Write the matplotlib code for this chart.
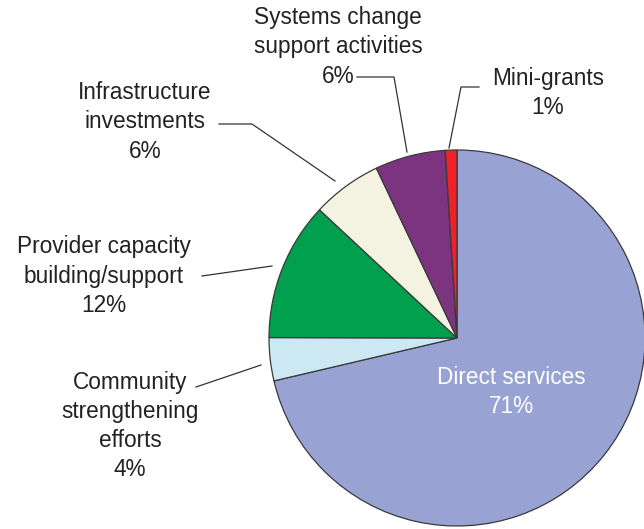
import matplotlib
matplotlib.use("Agg")
import matplotlib.pyplot as plt

categories = ["Direct services", "Community\nstrengthening\nefforts", "Provider capacity\nbuilding/support",
              "Infrastructure\ninvestments", "Systems change\nsupport activities", "Mini-grants"]
values = [71.3, 3.7, 11.9, 6.0, 6.05, 1.0]
pct_labels = ["71%", "4%", "12%", "6%", "6%", "1%"]
colors = ["#98A2D3", "#CBE8F3", "#00A04F", "#F4F2E1", "#7C3481", "#EE2029"]

W, H = 644, 529
fig = plt.figure(figsize=(W / 100, H / 100), dpi=100)
ax = fig.add_axes([0, 0, 1, 1])

def Y(y):
    return H - y

ax.pie(values, colors=colors, startangle=90, counterclock=False,
       center=(457, Y(338)), radius=188, frame=True,
       wedgeprops=dict(edgecolor="#3a3a3a", linewidth=0.9))
ax.set_xlim(0, W)
ax.set_ylim(0, H)
ax.set_aspect("equal")
ax.axis("off")

font = dict(family=["Liberation Sans", "DejaVu Sans"], fontsize=16.3, color="#222222",
            ha="center", va="center", linespacing=1.34)
lc = dict(color="#333333", linewidth=0.9)

# Systems change
ax.text(338, Y(47), categories[4] + "\n" + pct_labels[4], **font)
ax.plot([357, 394, 407], [Y(77), Y(77), Y(152)], **lc)

# Mini-grants
ax.text(548, Y(93), categories[5] + "\n" + pct_labels[5], **font)
ax.plot([479, 461, 449], [Y(87), Y(87), Y(148)], **lc)

# Infrastructure
ax.text(145, Y(122), categories[3] + "\n" + pct_labels[3], **font)
ax.plot([219, 252, 335], [Y(124), Y(124), Y(181)], **lc)

# Provider capacity
ax.text(104, Y(276), categories[2] + "\n" + pct_labels[2], **font)
ax.plot([202, 272], [Y(276), Y(266)], **lc)

# Community
ax.text(130, Y(426), categories[1] + "\n" + pct_labels[1], **font)
ax.plot([196, 261], [Y(387), Y(365)], **lc)

# Direct services
f2 = dict(font)
f2["color"] = "white"
ax.text(511, Y(392), categories[0] + "\n" + pct_labels[0], **f2)

fig.savefig("out.png", dpi=100)
